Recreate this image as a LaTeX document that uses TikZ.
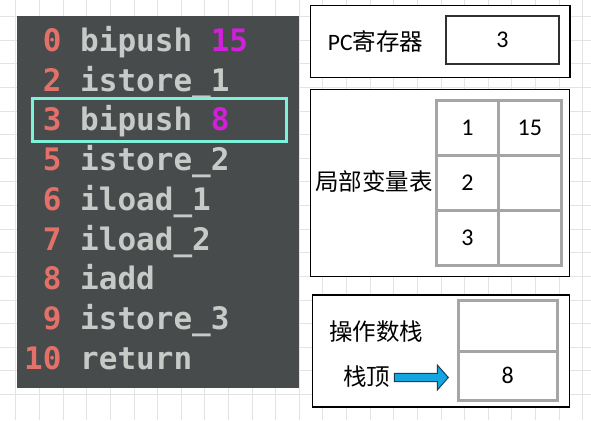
\documentclass[tikz,border=0pt]{standalone}
\usepackage{fontspec}
\setmainfont{Carlito}
\newfontfamily\cjk{Noto Sans CJK SC}
\newfontfamily\codefont{DejaVu Sans Mono}[BoldFont={DejaVu Sans Mono Bold}]
\definecolor{gridc}{HTML}{E3E3E3}
\definecolor{panel}{HTML}{474B4B}
\definecolor{numc}{HTML}{E4706A}
\definecolor{insc}{HTML}{C8CAC8}
\definecolor{magc}{HTML}{D21FDC}
\definecolor{hilite}{HTML}{7DF2D9}
\definecolor{cellc}{HTML}{A5A5A8}
\definecolor{arrfill}{HTML}{12A5DF}
\definecolor{arrline}{HTML}{1F3B57}
\definecolor{innerc}{HTML}{303030}
\tikzset{
  codeline/.style={anchor=base west, inner sep=0pt, font=\codefont\bfseries\fontsize{31}{31}\selectfont},
  outerbox/.style={draw=black, line width=1.1pt, fill=white},
  cellbox/.style={draw=cellc, line width=3pt, fill=white, inner sep=0pt, font=\fontsize{24}{24}\selectfont},
  cnlabel/.style={inner sep=0pt, font=\cjk\fontsize{23.5}{24}\selectfont},
}
\newcommand{\nm}[1]{\textcolor{numc}{#1}}
\newcommand{\ins}[1]{\textcolor{insc}{#1}}
\newcommand{\mg}[1]{\textcolor{magc}{#1}}
\begin{document}
\begin{tikzpicture}[x=1pt,y=-1pt]
\useasboundingbox (0,0) rectangle (591,420);
\fill[white] (0,0) rectangle (591,420);
% background grid
\foreach \i in {0,...,24}{
  \draw[gridc, line width=0.8pt] ({15.8+\i*23.62},0) -- ({15.8+\i*23.62},420);
}
\foreach \j in {0,...,17}{
  \draw[gridc, line width=0.8pt] (0,{16.5+\j*23.62-23.62}) -- (591,{16.5+\j*23.62-23.62});
}
% code panel
\node[fill=panel, inner sep=0pt, minimum width=282pt, minimum height=372pt, anchor=north west] (panel) at (17,16) {};
\node[codeline] (l0) at (24,51.5) {\phantom{1}\nm{0} \ins{bipush} \mg{15}};
\node[codeline] (l2) at (24,91.2) {\phantom{1}\nm{2} \ins{istore\_1}};
\node[codeline] (l3) at (24,130.9) {\phantom{1}\nm{3} \ins{bipush} \mg{8}};
\node[codeline] (l5) at (24,170.6) {\phantom{1}\nm{5} \ins{istore\_2}};
\node[codeline] (l6) at (24,210.3) {\phantom{1}\nm{6} \ins{iload\_1}};
\node[codeline] (l7) at (24,250.0) {\phantom{1}\nm{7} \ins{iload\_2}};
\node[codeline] (l8) at (24,289.7) {\phantom{1}\nm{8} \ins{iadd}};
\node[codeline] (l9) at (24,329.4) {\phantom{1}\nm{9} \ins{istore\_3}};
\node[codeline] (l10) at (24,369.1) {\nm{10} \ins{return}};
\node[draw=hilite, line width=3pt, inner sep=0pt, minimum width=254pt, minimum height=43pt] (hl) at (159,119.5) {};
% PC register
\node[outerbox, inner sep=0pt, minimum width=259.3pt, minimum height=72pt] (pcbox) at (440.35,41.3) {};
\node[cnlabel, font=\fontsize{23.5}{24}\selectfont] (pclabel) at (375.5,41.7) {PC{\cjk 寄存器}};
\node[draw=innerc, line width=2pt, inner sep=0pt, minimum width=113.3pt, minimum height=48.3pt, font=\fontsize{24}{24}\selectfont] (pcval) at (502.35,40.15) {3};
% local variable table
\node[outerbox, inner sep=0pt, minimum width=258.8pt, minimum height=187.4pt] (lvbox) at (440.1,183) {};
\node[cnlabel] (lvlabel) at (374,181) {局部变量表};
\node[cellbox, minimum width=62.7pt, minimum height=55pt] (c11) at (467.35,127.5) {1};
\node[cellbox, minimum width=62.3pt, minimum height=55pt] (c12) at (529.85,127.5) {15};
\node[cellbox, minimum width=62.7pt, minimum height=55.7pt] (c21) at (467.35,182.85) {2};
\node[cellbox, minimum width=62.3pt, minimum height=55.7pt] (c22) at (529.85,182.85) {};
\node[cellbox, minimum width=62.7pt, minimum height=55pt] (c31) at (467.35,238.2) {3};
\node[cellbox, minimum width=62.3pt, minimum height=55pt] (c32) at (529.85,238.2) {};
% operand stack
\node[outerbox, inner sep=0pt, minimum width=256.6pt, minimum height=112pt] (stbox) at (441,351) {};
\node[cnlabel] (stlabel) at (376,331.7) {操作数栈};
\node[cnlabel] (toplabel) at (366.7,376.7) {栈顶};
\node[cellbox, minimum width=99.3pt, minimum height=50.3pt] (s1) at (507.65,325.85) {};
\node[cellbox, minimum width=99.3pt, minimum height=49.7pt] (s2) at (507.65,375.85) {8};
% block arrow from label to top cell
\draw[fill=arrfill, draw=arrline, line width=1pt, line join=miter]
  (394.3,373.3) -- (437.3,373.3) -- (437.3,365) -- (448.3,377.5)
  -- (437.3,390) -- (437.3,381.7) -- (394.3,381.7) -- cycle;
\end{tikzpicture}
\end{document}
